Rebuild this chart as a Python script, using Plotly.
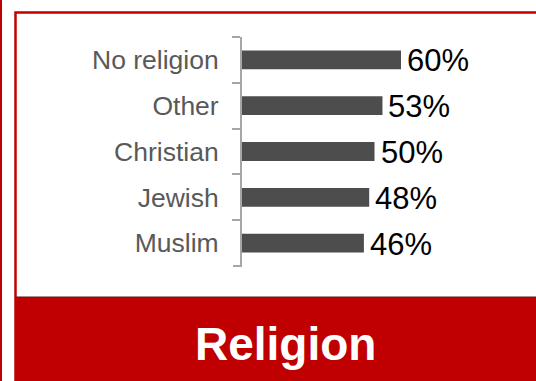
import plotly.graph_objects as go

# Share of respondents by religion
categories = ["No religion", "Other", "Christian", "Jewish", "Muslim"]
values = [60, 53, 50, 48, 46]
labels = [f"{v}%" for v in values]

W, H = 536, 381
L, R, T, B = 242, 0, 37, 115
RED = "#C00000"
AXIS_GREY = "#A6A6A6"
FONT = "Liberation Sans, Arial, sans-serif"


def px_x(x):
    return (x - L) / (W - L - R)


def px_y(y):
    return 1 - (y - T) / (H - T - B)


fig = go.Figure(
    go.Bar(
        x=values,
        y=categories,
        orientation="h",
        marker=dict(color="#4D4D4D", line=dict(width=0)),
        cliponaxis=False,
        width=0.41,
    )
)

# value labels just past the end of each bar
value_notes = [
    dict(x=v, y=c, text=t, xref="x", yref="y",
         xanchor="left", yanchor="middle", xshift=4, yshift=-1,
         showarrow=False,
         font=dict(family=FONT, size=31, color="#000000"))
    for v, c, t in zip(values, categories, labels)
]

shapes = [
    # left edge rule
    dict(type="line", xref="paper", yref="paper",
         x0=px_x(1), x1=px_x(1), y0=px_y(0), y1=px_y(H),
         line=dict(color=RED, width=2), layer="below"),
    # panel frame
    dict(type="rect", xref="paper", yref="paper",
         x0=px_x(15.5), x1=px_x(W + 10), y0=px_y(12.5), y1=px_y(H + 10),
         line=dict(color=RED, width=2.5), fillcolor="rgba(0,0,0,0)", layer="below"),
    # title banner
    dict(type="rect", xref="paper", yref="paper",
         x0=px_x(15), x1=px_x(W + 10), y0=px_y(297), y1=px_y(H + 10),
         line=dict(width=0), fillcolor=RED, layer="below"),
    dict(type="line", xref="paper", yref="paper",
         x0=px_x(15), x1=px_x(W + 10), y0=px_y(297), y1=px_y(297),
         line=dict(color="#5a1a1a", width=1), layer="below"),
    # closing tick at the bottom of the category axis
    dict(type="line", xref="paper", yref="paper",
         x0=px_x(233), x1=px_x(242), y0=0, y1=0,
         line=dict(color=AXIS_GREY, width=2), layer="above"),
]

fig.update_layout(
    width=W,
    height=H,
    margin=dict(l=L, r=R, t=T, b=B, pad=0),
    paper_bgcolor="white",
    plot_bgcolor="white",
    showlegend=False,
    shapes=shapes,
    annotations=value_notes + [
        dict(text="<b>Religion</b>", xref="paper", yref="paper",
             x=px_x(285), y=px_y(344), xanchor="center", yanchor="middle",
             showarrow=False,
             font=dict(family=FONT, size=46, color="white")),
    ],
    xaxis=dict(
        range=[0, (W - L - R) / 2.65],
        visible=False,
        fixedrange=True,
    ),
    yaxis=dict(
        autorange="reversed",
        showline=True,
        linecolor=AXIS_GREY,
        linewidth=2,
        ticks="outside",
        tickson="boundaries",
        ticklen=8,
        tickwidth=2,
        tickcolor=AXIS_GREY,
        ticklabelstandoff=16,
        tickfont=dict(family=FONT, size=26.5, color="#595959"),
        showgrid=False,
        zeroline=False,
    ),
)

fig.write_html("out.html")
